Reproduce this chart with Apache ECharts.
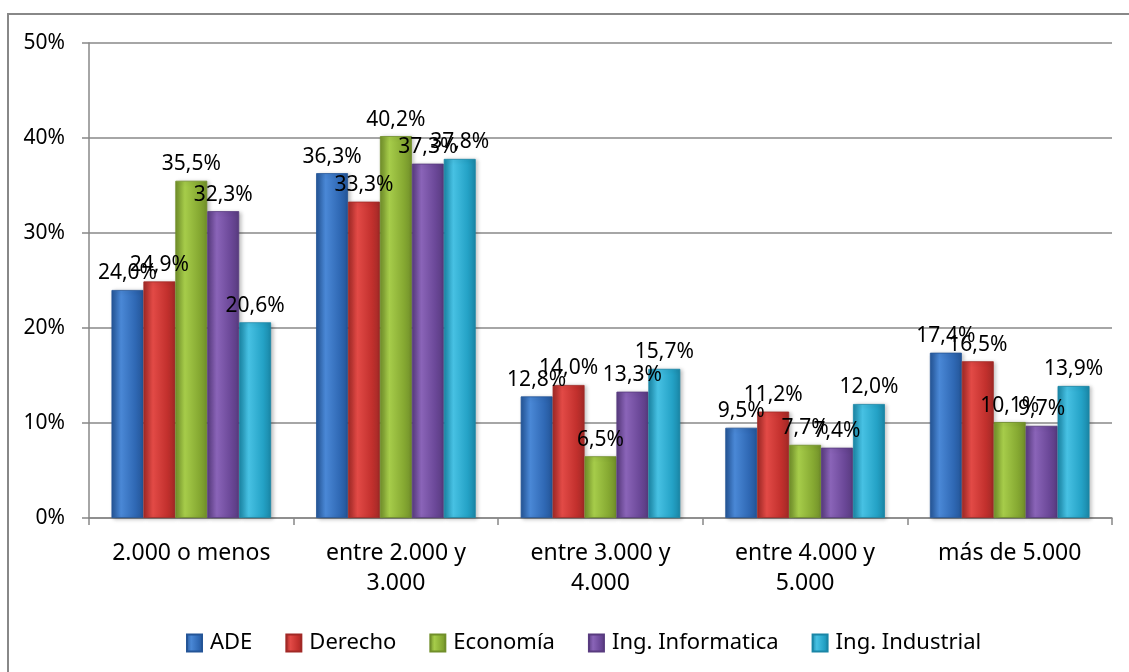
<!DOCTYPE html>
<html><head><meta charset="utf-8">
<script src="https://cdn.jsdelivr.net/npm/echarts@6/dist/echarts.min.js"></script>
<style>html,body{margin:0;padding:0;background:#fff}#c{width:1129px;height:672px}</style>
</head><body><div id="c"></div>
<script>
const categories = ['2.000 o menos', 'entre 2.000 y\n3.000', 'entre 3.000 y\n4.000', 'entre 4.000 y\n5.000', 'más de 5.000'];
const seriesNames = ['ADE', 'Derecho', 'Economía', 'Ing. Informatica', 'Ing. Industrial'];
const ade = [24.0, 36.3, 12.8, 9.5, 17.4];
const derecho = [24.9, 33.3, 14.0, 11.2, 16.5];
const economia = [35.5, 40.2, 6.5, 7.7, 10.1];
const informatica = [32.3, 37.3, 13.3, 7.4, 9.7];
const industrial = [20.6, 37.8, 15.7, 12.0, 13.9];
const yTicks = [0, 10, 20, 30, 40, 50];

const values = [ade, derecho, economia, informatica, industrial];
const palette = [
  ['#2f68b4', '#4a88d6', '#245597'],
  ['#c2302d', '#e24a46', '#a12926'],
  ['#86a932', '#a6cc4a', '#718f2a'],
  ['#6a4797', '#8a64b8', '#583b7f'],
  ['#24a2c6', '#47c1e3', '#1a86a6']
];
const FONT = 'Noto Sans';
function grad(p) {
  return new echarts.graphic.LinearGradient(0, 0, 1, 0, [
    {offset: 0, color: p[2]}, {offset: 0.3, color: p[1]}, {offset: 0.75, color: p[0]}, {offset: 1, color: p[2]}
  ]);
}
const chart = echarts.init(document.getElementById('c'));
chart.setOption({
  animation: false,
  textStyle: {fontFamily: FONT},
  graphic: [{type: 'rect', shape: {x: 8, y: 14, width: 1200, height: 720}, style: {fill: 'none', stroke: '#888', lineWidth: 2}, silent: true}],
  grid: {left: 89, right: 17, top: 43, bottom: 154},
  legend: {
    top: 627, left: 181, icon: 'rect', itemWidth: 15, itemHeight: 17, itemGap: 33,
    textStyle: {fontFamily: FONT, fontSize: 22, color: '#000', padding: [0, 0, 0, 3]},
    data: seriesNames
  },
  xAxis: {
    type: 'category', data: categories,
    axisLine: {lineStyle: {color: '#888', width: 1.5}},
    axisTick: {show: true, length: 7, lineStyle: {color: '#888', width: 1.5}},
    axisLabel: {interval: 0, hideOverlap: false, fontFamily: FONT, fontSize: 23, color: '#000', margin: 20, lineHeight: 30}
  },
  yAxis: {
    type: 'value', min: yTicks[0], max: yTicks[yTicks.length - 1], interval: 10,
    axisLine: {show: true, lineStyle: {color: '#888', width: 1.5}},
    axisTick: {show: true, length: 7, lineStyle: {color: '#888', width: 1.5}},
    splitLine: {lineStyle: {color: '#888', width: 1.5}},
    axisLabel: {fontFamily: FONT, fontSize: 21, color: '#000', margin: 24, formatter: '{value}%'}
  },
  series: seriesNames.map((n, i) => ({
    name: n, type: 'bar', data: values[i],
    barGap: '0%', barCategoryGap: '22%',
    itemStyle: {color: grad(palette[i]), borderColor: palette[i][2], borderWidth: 0.8,
      shadowColor: 'rgba(0,0,0,0.25)', shadowBlur: 4, shadowOffsetX: 2, shadowOffsetY: 1},
    label: {show: true, position: 'top', distance: 6, fontFamily: FONT, fontSize: 21, color: '#000',
      formatter: p => p.value.toFixed(1).replace('.', ',') + '%'}
  }))
});
</script></body></html>
